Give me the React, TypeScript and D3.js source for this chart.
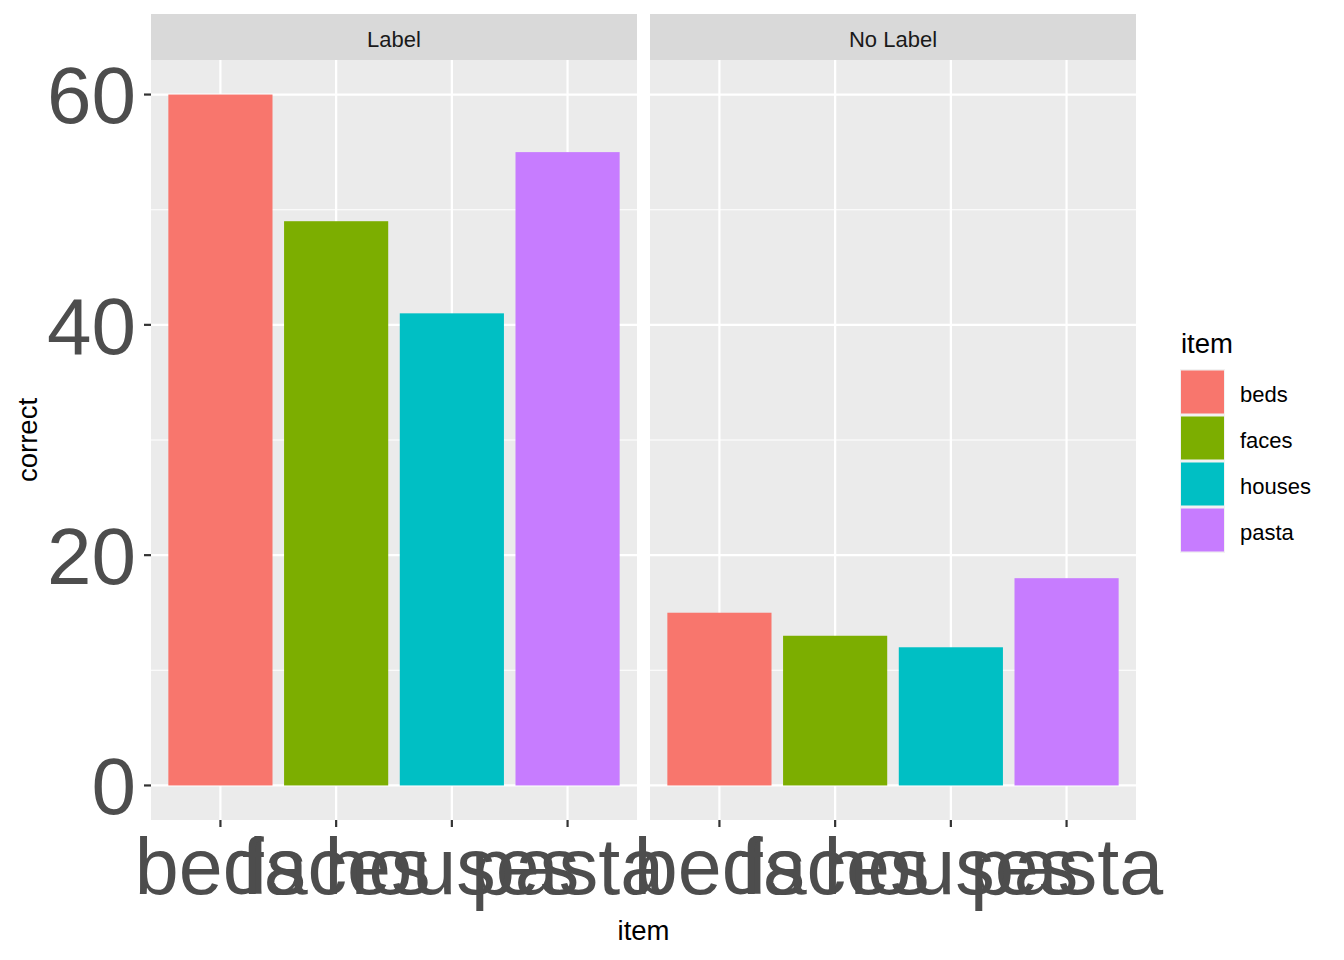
import * as d3 from 'd3';
import { useEffect, useRef } from 'react';

const items = ['beds', 'faces', 'houses', 'pasta'];
const panels = ['Label', 'No Label'];
const labelValues = [60, 49, 41, 55];
const noLabelValues = [15, 13, 12, 18];
const itemColors = ['#F8766D', '#7CAE00', '#00BFC4', '#C77CFF'];
const yMajorTicks = [0, 20, 40, 60];
const yMinorTicks = [10, 30, 50];

const W = 1344;
const H = 960;
const FONT = '"Liberation Sans", Arial, sans-serif';

const App: React.FC = () => {
    const svgRef = useRef<SVGSVGElement>(null);

    useEffect(() => {
        const svg = d3.select(svgRef.current);
        svg.selectAll('*').remove();

        const panelTop = 60;
        const panelBottom = 820;
        const stripTop = 14;
        const panelX = [151, 650];
        const panelW = 486;

        const y = d3.scaleLinear().domain([-3, 63]).range([panelBottom, panelTop]);
        // ggplot discrete expansion: 0.6 units on each side -> positions 1..4 in [0.4, 4.6]
        const pos = d3.scalePoint().domain(items).range([panelW * 0.6 / 4.2, panelW * 3.6 / 4.2]);
        const unit = panelW / 4.2;
        const barW = unit * 0.9;

        const color = d3.scaleOrdinal<string, string>().domain(items).range(itemColors);
        const seriesByPanel = [labelValues, noLabelValues];

        panels.forEach((name, pi) => {
            const g = svg.append('g').attr('transform', `translate(${panelX[pi]},0)`);

            // strip
            g.append('rect')
                .attr('x', 0).attr('y', stripTop)
                .attr('width', panelW).attr('height', panelTop - stripTop)
                .attr('fill', '#d9d9d9');
            g.append('text')
                .attr('x', panelW / 2).attr('y', (stripTop + panelTop) / 2 + 2)
                .attr('dy', '0.35em')
                .attr('text-anchor', 'middle')
                .attr('font-family', FONT).attr('font-size', 22)
                .attr('fill', '#1a1a1a')
                .text(name);

            // panel background
            g.append('rect')
                .attr('x', 0).attr('y', panelTop)
                .attr('width', panelW).attr('height', panelBottom - panelTop)
                .attr('fill', '#ebebeb');

            // grid
            g.selectAll('.minor').data(yMinorTicks).enter().append('line')
                .attr('x1', 0).attr('x2', panelW)
                .attr('y1', (d) => y(d)).attr('y2', (d) => y(d))
                .attr('stroke', '#fff').attr('stroke-width', 1.1);
            g.selectAll('.major').data(yMajorTicks).enter().append('line')
                .attr('x1', 0).attr('x2', panelW)
                .attr('y1', (d) => y(d)).attr('y2', (d) => y(d))
                .attr('stroke', '#fff').attr('stroke-width', 2.2);
            g.selectAll('.vgrid').data(items).enter().append('line')
                .attr('x1', (d) => pos(d) || 0).attr('x2', (d) => pos(d) || 0)
                .attr('y1', panelTop).attr('y2', panelBottom)
                .attr('stroke', '#fff').attr('stroke-width', 2.2);

            // bars
            const vals = seriesByPanel[pi];
            g.selectAll('.bar').data(items).enter().append('rect')
                .attr('x', (d) => (pos(d) || 0) - barW / 2)
                .attr('width', barW)
                .attr('y', (_, i) => y(vals[i]))
                .attr('height', (_, i) => y(0) - y(vals[i]))
                .attr('fill', (d) => color(d));

            // x axis ticks and labels
            g.selectAll('.xtick').data(items).enter().append('line')
                .attr('x1', (d) => pos(d) || 0).attr('x2', (d) => pos(d) || 0)
                .attr('y1', panelBottom).attr('y2', panelBottom + 7)
                .attr('stroke', '#333').attr('stroke-width', 2.2);
            g.selectAll('.xlab').data(items).enter().append('text')
                .attr('x', (d) => pos(d) || 0).attr('y', 894)
                .attr('text-anchor', 'middle')
                .attr('font-family', FONT).attr('font-size', 79)
                .attr('fill', '#4d4d4d')
                .text((d) => d);
        });

        // y axis
        const ya = svg.append('g');
        ya.selectAll('line').data(yMajorTicks).enter().append('line')
            .attr('x1', 144).attr('x2', 151)
            .attr('y1', (d) => y(d)).attr('y2', (d) => y(d))
            .attr('stroke', '#333').attr('stroke-width', 2.2);
        ya.selectAll('text').data(yMajorTicks).enter().append('text')
            .attr('x', 136).attr('y', (d) => y(d))
            .attr('dy', '0.36em')
            .attr('text-anchor', 'end')
            .attr('font-family', FONT).attr('font-size', 80)
            .attr('fill', '#4d4d4d')
            .text((d) => d);

        // axis titles
        svg.append('text')
            .attr('transform', `translate(37,${(panelTop + panelBottom) / 2}) rotate(-90)`)
            .attr('text-anchor', 'middle')
            .attr('font-family', FONT).attr('font-size', 27.5)
            .attr('fill', '#000')
            .text('correct');
        svg.append('text')
            .attr('x', (panelX[0] + panelX[1] + panelW) / 2).attr('y', 940)
            .attr('text-anchor', 'middle')
            .attr('font-family', FONT).attr('font-size', 27.5)
            .attr('fill', '#000')
            .text('item');

        // legend
        const lg = svg.append('g');
        lg.append('text')
            .attr('x', 1181).attr('y', 353)
            .attr('font-family', FONT).attr('font-size', 27.5)
            .attr('fill', '#000')
            .text('item');
        const keyTop = 369;
        const keyH = 46;
        lg.append('rect')
            .attr('x', 1180).attr('y', keyTop)
            .attr('width', 45).attr('height', keyH * items.length)
            .attr('fill', '#f2f2f2');
        lg.selectAll('.key').data(items).enter().append('rect')
            .attr('x', 1181).attr('y', (_, i) => keyTop + i * keyH + 1.5)
            .attr('width', 43).attr('height', 43)
            .attr('fill', (d) => color(d));
        lg.selectAll('.klab').data(items).enter().append('text')
            .attr('x', 1240).attr('y', (_, i) => keyTop + i * keyH + keyH / 2 + 2)
            .attr('dy', '0.35em')
            .attr('font-family', FONT).attr('font-size', 22)
            .attr('fill', '#000')
            .text((d) => d);
    }, []);

    return (
        <div style={{ position: 'absolute', left: 0, top: 0, width: W, height: H, background: '#fff' }}>
            <svg ref={svgRef} width={W} height={H}></svg>
        </div>
    );
};

export default App;
